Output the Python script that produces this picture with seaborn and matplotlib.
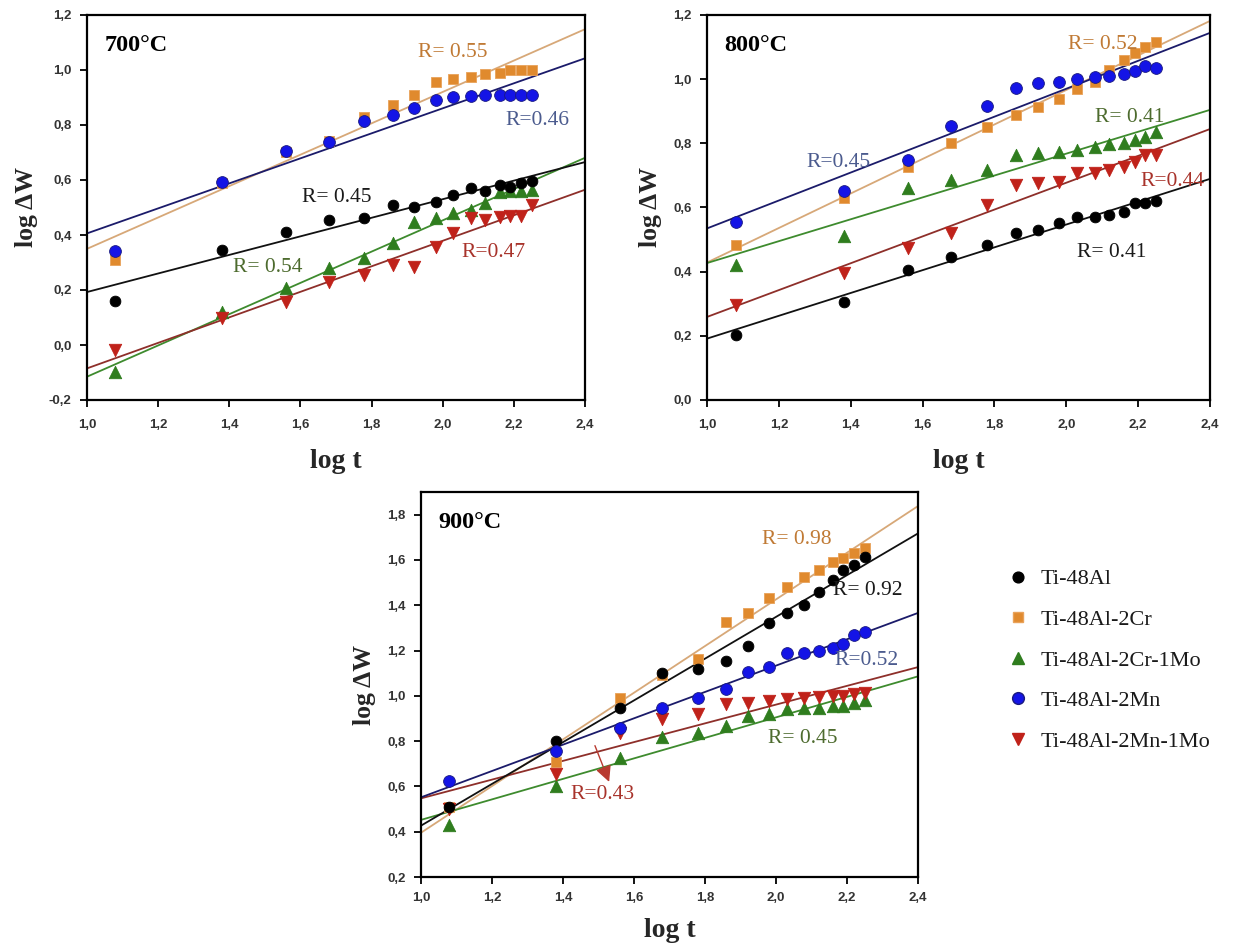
import numpy as np
import matplotlib
matplotlib.use("Agg")
import matplotlib.pyplot as plt
from matplotlib.ticker import FuncFormatter
from matplotlib.lines import Line2D
import seaborn as sns

sns.set_style("white")
plt.rcParams["font.family"] = ["Liberation Serif", "DejaVu Serif"]

# oxidation time, log t (h)
log_t = [1.08, 1.38, 1.56, 1.68, 1.78, 1.86, 1.92, 1.98, 2.03, 2.08, 2.12, 2.16, 2.19, 2.22, 2.25]

alloys = ["Ti-48Al", "Ti-48Al-2Cr", "Ti-48Al-2Cr-1Mo", "Ti-48Al-2Mn", "Ti-48Al-2Mn-1Mo"]

# log mass gain at 700 °C
w700_al = [0.16, 0.345, 0.41, 0.455, 0.46, 0.51, 0.50, 0.52, 0.545, 0.57, 0.56, 0.58, 0.575, 0.59, 0.595]
w700_cr = [0.31, 0.59, 0.70, 0.74, 0.83, 0.873, 0.91, 0.957, 0.967, 0.975, 0.985, 0.99, 1.0, 1.0, 1.0]
w700_crmo = [-0.10, 0.12, 0.207, 0.28, 0.316, 0.37, 0.447, 0.46, 0.48, 0.49, 0.515, 0.557, 0.56, 0.56, 0.565]
w700_mn = [0.34, 0.593, 0.705, 0.738, 0.815, 0.836, 0.86, 0.89, 0.90, 0.905, 0.91, 0.91, 0.91, 0.91, 0.91]
w700_mnmo = [-0.018, 0.098, 0.156, 0.23, 0.255, 0.29, 0.285, 0.357, 0.407, 0.46, 0.455, 0.466, 0.47, 0.47, 0.51]

# log mass gain at 800 °C
w800_al = [0.203, 0.305, 0.405, 0.446, 0.483, 0.52, 0.53, 0.552, 0.57, 0.57, 0.577, 0.586, 0.614, 0.615, 0.62]
w800_cr = [0.483, 0.63, 0.727, 0.80, 0.852, 0.888, 0.914, 0.937, 0.968, 0.99, 1.03, 1.06, 1.08, 1.10, 1.117]
w800_crmo = [0.42, 0.51, 0.66, 0.686, 0.717, 0.764, 0.77, 0.774, 0.78, 0.79, 0.798, 0.80, 0.81, 0.82, 0.836]
w800_mn = [0.555, 0.652, 0.748, 0.854, 0.916, 0.973, 0.987, 0.99, 1.0, 1.007, 1.01, 1.016, 1.024, 1.04, 1.036]
w800_mnmo = [0.296, 0.395, 0.473, 0.52, 0.608, 0.67, 0.675, 0.68, 0.706, 0.706, 0.717, 0.727, 0.742, 0.764, 0.764]

# log mass gain at 900 °C
w900_al = [0.51, 0.80, 0.947, 1.10, 1.12, 1.155, 1.22, 1.32, 1.364, 1.40, 1.458, 1.51, 1.556, 1.578, 1.613]
w900_cr = [0.51, 0.71, 0.99, 1.09, 1.164, 1.324, 1.364, 1.43, 1.48, 1.524, 1.556, 1.59, 1.61, 1.63, 1.653]
w900_crmo = [0.43, 0.60, 0.725, 0.818, 0.835, 0.867, 0.91, 0.92, 0.94, 0.947, 0.947, 0.955, 0.955, 0.97, 0.98]
w900_mn = [0.622, 0.755, 0.86, 0.947, 0.99, 1.03, 1.107, 1.128, 1.187, 1.19, 1.20, 1.213, 1.23, 1.267, 1.28]
w900_mnmo = [0.50, 0.653, 0.835, 0.897, 0.92, 0.964, 0.97, 0.978, 0.985, 0.99, 0.995, 1.0, 1.0, 1.01, 1.013]

temps = ["700°C", "800°C", "900°C"]
r_700 = ["R= 0.45", "R= 0.55", "R= 0.54", "R=0.46", "R=0.47"]
r_800 = ["R= 0.41", "R= 0.52", "R= 0.41", "R=0.45", "R=0.44"]
r_900 = ["R= 0.92", "R= 0.98", "R= 0.45", "R=0.52", "R=0.43"]

panel_series = {
    "700°C": [w700_al, w700_cr, w700_crmo, w700_mn, w700_mnmo],
    "800°C": [w800_al, w800_cr, w800_crmo, w800_mn, w800_mnmo],
    "900°C": [w900_al, w900_cr, w900_crmo, w900_mn, w900_mnmo],
}
panel_r = {"700°C": r_700, "800°C": r_800, "900°C": r_900}

# styling per alloy
marker_style = {
    "Ti-48Al": dict(marker="o", color="#000000", edge="#000000", s=60),
    "Ti-48Al-2Cr": dict(marker="s", color="#E08A2E", edge="#E9A25A", s=55),
    "Ti-48Al-2Cr-1Mo": dict(marker="^", color="#2F7D1E", edge="#2F7D1E", s=80),
    "Ti-48Al-2Mn": dict(marker="o", color="#1414E6", edge="#1a1a80", s=72),
    "Ti-48Al-2Mn-1Mo": dict(marker="v", color="#C0221A", edge="#C0221A", s=80),
}
fit_color = {
    "Ti-48Al": "#111111",
    "Ti-48Al-2Cr": "#D7A878",
    "Ti-48Al-2Cr-1Mo": "#3E8B2E",
    "Ti-48Al-2Mn": "#1B1B6A",
    "Ti-48Al-2Mn-1Mo": "#8E2F2A",
}
text_color = {
    "Ti-48Al": "#1a1a1a",
    "Ti-48Al-2Cr": "#C07A35",
    "Ti-48Al-2Cr-1Mo": "#4D6B2E",
    "Ti-48Al-2Mn": "#4B5B8E",
    "Ti-48Al-2Mn-1Mo": "#A8332B",
}
draw_order = ["Ti-48Al-2Cr", "Ti-48Al-2Cr-1Mo", "Ti-48Al-2Mn-1Mo", "Ti-48Al", "Ti-48Al-2Mn"]

# label anchors (data coordinates) for the R values, per alloy
r_pos = {
    "700°C": [(1.605, 0.538), (1.93, 1.065), (1.41, 0.28), (2.175, 0.818), (2.054, 0.338)],
    "800°C": [(2.03, 0.46), (2.005, 1.107), (2.08, 0.882), (1.278, 0.739), (2.205, 0.68)],
    "900°C": [(2.16, 1.467), (1.96, 1.689), (1.978, 0.813), (2.166, 1.156), (1.42, 0.564)],
}

ylims = {"700°C": (-0.2, 1.2), "800°C": (0.0, 1.2), "900°C": (0.2, 1.9)}
yticks = {
    "700°C": np.arange(-0.2, 1.21, 0.2),
    "800°C": np.arange(0.0, 1.21, 0.2),
    "900°C": np.arange(0.2, 1.81, 0.2),
}

W, H = 1254, 947
fig = plt.figure(figsize=(W / 100, H / 100), dpi=100)
boxes = {
    "700°C": (87, 15, 498, 385),
    "800°C": (707, 15, 503, 385),
    "900°C": (421, 492, 497, 385),
}
# x tick-label pad and x-label pad (points) per panel
xpads = {"700°C": (9, 13), "800°C": (9, 13), "900°C": (6, 10)}

comma = FuncFormatter(lambda v, p: f"{v:.1f}".replace(".", ",").replace("-0,0", "0,0"))

for temp in temps:
    l, t, w, h = boxes[temp]
    ax = fig.add_axes([l / W, 1 - (t + h) / H, w / W, h / H])
    ax.set_xlim(1.0, 2.4)
    ax.set_ylim(*ylims[temp])
    ax.set_xticks(np.arange(1.0, 2.41, 0.2))
    ax.set_yticks(yticks[temp])
    ax.xaxis.set_major_formatter(comma)
    ax.yaxis.set_major_formatter(comma)

    series = dict(zip(alloys, panel_series[temp]))
    for name in draw_order:
        sns.regplot(x=np.array(log_t), y=np.array(series[name]), ax=ax,
                    scatter=False, ci=None, truncate=False,
                    line_kws=dict(color=fit_color[name], lw=1.3, zorder=2))
    for name in draw_order:
        st = marker_style[name]
        sns.scatterplot(x=log_t, y=series[name], ax=ax, marker=st["marker"],
                        color=st["color"], edgecolor=st["edge"], linewidth=0.6,
                        s=st["s"], zorder=3, legend=False)

    for name, label, (xr, yr) in zip(alloys, panel_r[temp], r_pos[temp]):
        ax.text(xr, yr, label, color=text_color[name], fontsize=15.5,
                va="center", ha="left", zorder=4)

    if temp == "900°C":
        ax.annotate("", xy=(1.53, 0.62), xytext=(1.49, 0.78),
                    arrowprops=dict(arrowstyle="-|>", color="#B83A30", lw=1.0,
                                    mutation_scale=24, shrinkA=0, shrinkB=0))

    ax.text(0.035, 0.92, temp, transform=ax.transAxes, fontsize=17.5,
            fontweight="bold", ha="left", va="center", color="black")

    for sp in ax.spines.values():
        sp.set_visible(True)
        sp.set_color("black")
        sp.set_linewidth(1.6)
    tick_pad, label_pad = xpads[temp]
    ax.tick_params(axis="both", direction="out", length=5, width=1.3,
                   color="black", pad=6, left=True, bottom=True)
    ax.tick_params(axis="x", pad=tick_pad)
    for lab in ax.get_xticklabels() + ax.get_yticklabels():
        lab.set_fontfamily("Liberation Sans")
        lab.set_fontweight("bold")
        lab.set_fontsize(9.5)
        lab.set_color("#333333")
    ax.set_xlabel("log t", fontsize=20, fontweight="bold", labelpad=label_pad)
    ax.set_ylabel("log ΔW", fontsize=18.5, fontweight="bold", labelpad=8)

# legend beside the 900 °C panel
handles = []
for name in alloys:
    st = marker_style[name]
    handles.append(Line2D([], [], linestyle="none", marker=st["marker"],
                          markerfacecolor=st["color"], markeredgecolor=st["edge"],
                          markersize=np.sqrt(st["s"])))
leg = fig.legend(handles, alloys, loc="upper left", bbox_to_anchor=(998 / W, 1 - 560 / H),
                 frameon=False, fontsize=16, labelspacing=0.9, handletextpad=0.5,
                 handlelength=1.0, borderaxespad=0)
for txt in leg.get_texts():
    txt.set_color("#1a1a1a")

fig.savefig("out.png", dpi=100, facecolor="white")
